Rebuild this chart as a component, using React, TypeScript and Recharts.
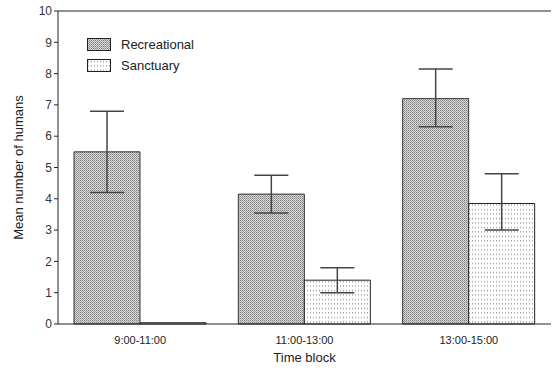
import React from 'react';
import { BarChart, Bar, XAxis, YAxis, ErrorBar, ReferenceLine } from 'recharts';

// Mean humans per time block, with lower/upper error offsets
const timeBlocks = ['9:00-11:00', '11:00-13:00', '13:00-15:00'];
const recreational = [5.5, 4.15, 7.2];
const recreationalErr = [[1.3, 1.3], [0.6, 0.6], [0.9, 0.95]];
const sanctuary = [0.04, 1.4, 3.85];
const sanctuaryErr = [null, [0.4, 0.4], [0.85, 0.95]];
const yTicks = [0, 1, 2, 3, 4, 5, 6, 7, 8, 9, 10];
const seriesNames = ['Recreational', 'Sanctuary'];

const data = timeBlocks.map((block, i) => ({
  block,
  recreational: recreational[i],
  recErr: recreationalErr[i],
  sanctuary: sanctuary[i],
  sanErr: sanctuaryErr[i],
}));

const font = 'Arial, "Liberation Sans", sans-serif';
const fills = ['url(#recPat)', 'url(#sanPat)'];

const LegendBox = () => (
  <div style={{ position: 'absolute', left: 87, top: 34, fontFamily: font, fontSize: 13, color: '#222' }}>
    {seriesNames.map((name, i) => (
      <div key={name} style={{ display: 'flex', alignItems: 'center', height: 21 }}>
        <svg width={24} height={13} style={{ marginRight: 10 }}>
          <rect x={0.5} y={0.5} width={23} height={12} fill={fills[i]} stroke="#222" />
        </svg>
        <span>{name}</span>
      </div>
    ))}
  </div>
);

export default function App() {
  return (
    <div style={{ position: 'absolute', left: 0, top: 0, width: 555, height: 370, background: '#fff' }}>
      <BarChart
        width={555}
        height={370}
        data={data}
        margin={{ top: 11, right: 4, bottom: 16, left: 0 }}
        barCategoryGap={16}
        barGap={0}
      >
        <defs>
          <pattern id="recPat" width={2} height={2} patternUnits="userSpaceOnUse">
            <rect width={2} height={2} fill="#dadada" />
            <rect width={1} height={1} fill="#7e7e7e" />
            <rect x={1} y={1} width={1} height={1} fill="#a0a0a0" />
          </pattern>
          <pattern id="sanPat" width={3} height={4.5} patternUnits="userSpaceOnUse">
            <rect width={3} height={4.5} fill="#fff" />
            <rect x={1} y={2} width={1} height={1} fill="#777" />
          </pattern>
        </defs>
        <XAxis
          dataKey="block"
          tickLine={false}
          axisLine={{ stroke: '#222' }}
          height={30}
          tick={{ fontFamily: font, fontSize: 11, fill: '#222' }}
          tickMargin={6}
          label={{ value: 'Time block', position: 'insideBottom', offset: -8, style: { fontFamily: font, fontSize: 13, fill: '#222' } }}
        />
        <YAxis
          domain={[0, 10]}
          ticks={yTicks}
          width={58}
          tickSize={4}
          tickLine={{ stroke: '#222' }}
          axisLine={{ stroke: '#222' }}
          tick={{ fontFamily: font, fontSize: 12, fill: '#333' }}
          label={{
            value: 'Mean number of humans',
            angle: -90,
            position: 'insideLeft',
            offset: 18,
            style: { fontFamily: font, fontSize: 13, fill: '#222', textAnchor: 'middle' },
          }}
        />
        <YAxis yAxisId="right" orientation="right" width={0} domain={[0, 10]} tick={false} tickLine={false} axisLine={{ stroke: '#222' }} />
        <ReferenceLine y={10} stroke="#222" />
        <Bar dataKey="recreational" name="Recreational" fill="url(#recPat)" stroke="#333" strokeWidth={1} isAnimationActive={false}>
          <ErrorBar dataKey="recErr" width={17} stroke="#444" strokeWidth={1.5} direction="y" />
        </Bar>
        <Bar dataKey="sanctuary" name="Sanctuary" fill="url(#sanPat)" stroke="#222" strokeWidth={1} isAnimationActive={false}>
          <ErrorBar dataKey="sanErr" width={17} stroke="#444" strokeWidth={1.5} direction="y" />
        </Bar>
      </BarChart>
      <LegendBox />
    </div>
  );
}
